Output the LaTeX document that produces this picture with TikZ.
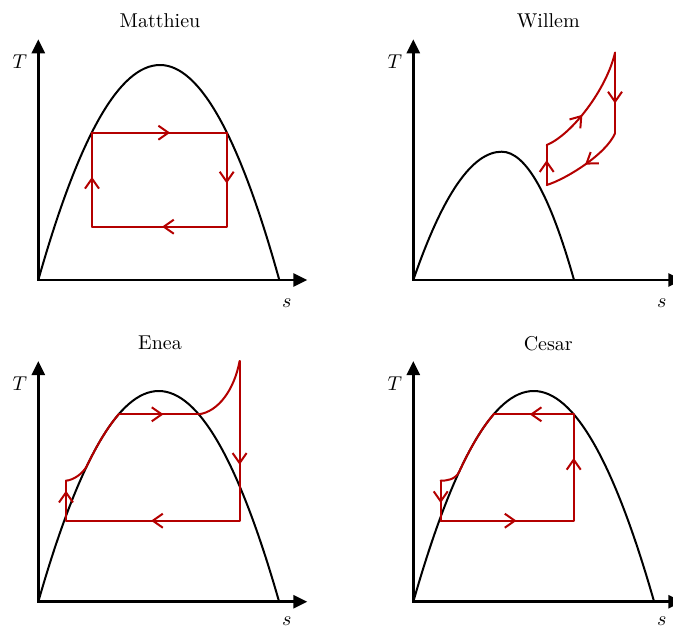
\documentclass[tikz,border=0pt]{standalone}
\usepackage{amsmath}
\usepackage{tikz}
\usetikzlibrary{positioning, calc, arrows.meta, decorations.markings}

\definecolor{cyclered}{RGB}{180,0,0}

\tikzset{
  axis/.style={line width=1.3pt, {Triangle[length=7pt,width=6.5pt]}-{Triangle[length=7pt,width=6.5pt]}},
  dome/.style={line width=1pt},
  loopline/.style={color=cyclered, line width=1pt, line cap=round, line join=round},
  flow/.style={decoration={markings, mark=at position #1 with {\arrow{Straight Barb[length=5pt,width=7pt]}}}, postaction={decorate}},
  flow/.default=0.57,
}

\begin{document}
\begin{tikzpicture}[x=0.5pt, y=0.5pt,
  declare function={domeE(\x)=210.7*(1-(\x-120.4)*(\x-120.4)/14496.16);}]
  \useasboundingbox (0,0) rectangle (673,629);
  \clip (0,0) rectangle (673,629);

  % Matthieu
  \begin{scope}[shift={(38.3,349)}]
    \node (titleM) at (121.7,259) {Matthieu};
    \coordinate (oM) at (0,0);
    \coordinate (yM) at (0,240.7);
    \coordinate (xM) at (269,0);
    \coordinate (pkM) at (121.7,215);
    \coordinate (endM) at (241,0);
    \draw[axis] (yM) -- (oM) -- (xM);
    \node (TM) at (-18.5,218.5) {$T$};
    \node (sM) at (248.5,-23.3) {$s$};
    \draw[dome] (oM) .. controls (40.57,143.33) and (81.13,215) .. (pkM)
      .. controls (161.47,215) and (201.23,143.33) .. (endM);
    \coordinate (m1) at (53.7,147.3);
    \coordinate (m2) at (188.4,147.3);
    \coordinate (m3) at (188.4,53.3);
    \coordinate (m4) at (53.7,53.3);
    \draw[loopline, flow=0.53] (m4) -- (m1);
    \draw[loopline, flow=0.58] (m1) -- (m2);
    \draw[loopline, flow=0.54] (m2) -- (m3);
    \draw[loopline, flow=0.48] (m3) -- (m4);
  \end{scope}

  % Willem
  \begin{scope}[shift={(413.3,349)}]
    \node (titleW) at (135,259) {Willem};
    \coordinate (oW) at (0,0);
    \coordinate (yW) at (0,240.7);
    \coordinate (xW) at (269,0);
    \coordinate (pkW) at (88.4,128.3);
    \coordinate (endW) at (160.7,0);
    \draw[axis] (yW) -- (oW) -- (xW);
    \node (TW) at (-18.5,218.5) {$T$};
    \node (sW) at (248.5,-23.3) {$s$};
    \draw[dome] (oW) .. controls (29.47,85.53) and (58.93,128.3) .. (pkW)
      .. controls (112.5,128.3) and (136.6,85.53) .. (endW);
    \coordinate (wA) at (133.4,135);
    \coordinate (wB) at (133.4,95);
    \coordinate (wC) at (201.7,146.7);
    \coordinate (wD) at (201.7,227.3);
    \draw[loopline, flow=0.62] (wB) -- (wA);
    \draw[loopline, flow=0.4] (wA) .. controls (158,145) and (193,190) .. (wD);
    \draw[loopline, flow=0.63] (wD) -- (wC);
    \draw[loopline, flow=0.5] (wC) .. controls (193,126) and (153,101) .. (wB);
  \end{scope}

  % Enea
  \begin{scope}[shift={(38.3,27.3)}]
    \node (titleE) at (121.7,258.4) {Enea};
    \coordinate (oE) at (0,0);
    \coordinate (yE) at (0,240.7);
    \coordinate (xE) at (269,0);
    \coordinate (pkE) at (120.4,210.7);
    \coordinate (endE) at (240.8,0);
    \draw[axis] (yE) -- (oE) -- (xE);
    \node (TE) at (-18.5,218.5) {$T$};
    \node (sE) at (248.5,-19) {$s$};
    \draw[dome] (oE) .. controls (40.13,140.47) and (80.27,210.7) .. (pkE)
      .. controls (160.53,210.7) and (200.67,140.47) .. (endE);
    \coordinate (e1) at (27.7,81);
    \coordinate (e2) at (27.7,121);
    \coordinate (e3) at (80.4,187.4);
    \coordinate (e4) at (160.4,187.4);
    \coordinate (e5) at (201.3,240.7);
    \coordinate (e6) at (201.3,81);
    \draw[loopline, flow=0.75] (e1) -- (e2);
    \draw[loopline] (e2) .. controls (35,121.5) and (45,128.2) .. (49,{domeE(49)})
      -- plot[domain=49:80.4, samples=15] (\x,{domeE(\x)});
    \draw[loopline, flow=0.56] (e3) -- (e4);
    \draw[loopline] (e4) .. controls (180,190) and (196,212) .. (e5);
    \draw[loopline, flow=0.65] (e5) -- (e6);
    \draw[loopline, flow=0.51] (e6) -- (e1);
  \end{scope}

  % Cesar
  \begin{scope}[shift={(413.3,27.3)}]
    \node (titleC) at (135,258.4) {Cesar};
    \coordinate (oC) at (0,0);
    \coordinate (yC) at (0,240.7);
    \coordinate (xC) at (269,0);
    \coordinate (pkC) at (120.4,210.7);
    \coordinate (endC) at (240.8,0);
    \draw[axis] (yC) -- (oC) -- (xC);
    \node (TC) at (-18.5,218.5) {$T$};
    \node (sC) at (248.5,-19) {$s$};
    \draw[dome] (oC) .. controls (40.13,140.47) and (80.27,210.7) .. (pkC)
      .. controls (160.53,210.7) and (200.67,140.47) .. (endC);
    \coordinate (c1) at (160.4,187.4);
    \coordinate (c2) at (80.4,187.4);
    \coordinate (c3) at (27.4,121);
    \coordinate (c4) at (27.4,81);
    \coordinate (c5) at (160.4,81);
    \draw[loopline, flow=0.55] (c1) -- (c2);
    \draw[loopline] (c2) -- plot[domain=80.4:46, samples=15] (\x,{domeE(\x)})
      .. controls (42,121.7) and (33,121) .. (c3);
    \draw[loopline, flow=0.56] (c3) -- (c4);
    \draw[loopline, flow=0.57] (c4) -- (c5);
    \draw[loopline, flow=0.59] (c5) -- (c1);
  \end{scope}
\end{tikzpicture}
\end{document}
